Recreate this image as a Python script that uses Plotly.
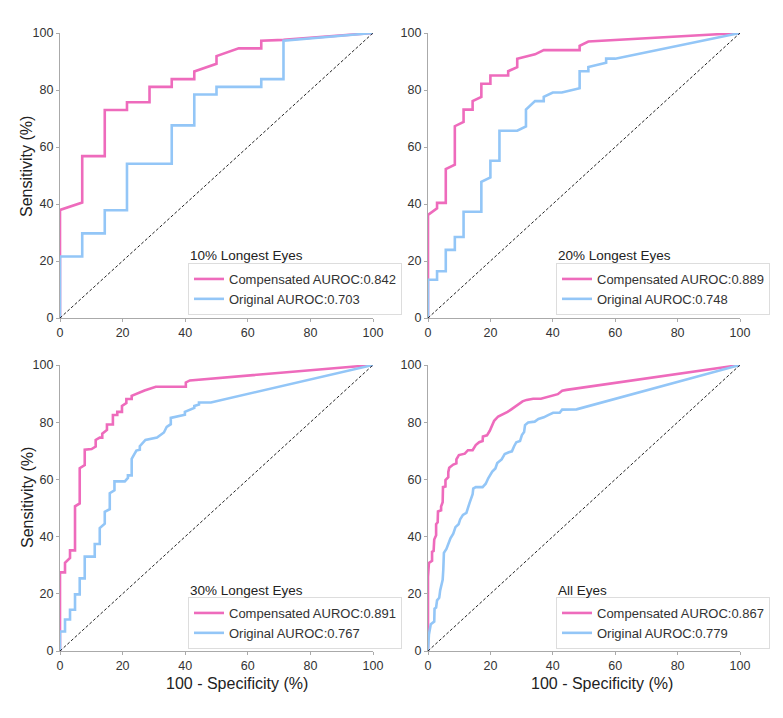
import plotly.graph_objects as go

# ---------------- data ----------------
panel_titles = ["10% Longest Eyes", "20% Longest Eyes", "30% Longest Eyes", "All Eyes"]
comp_auroc = ["0.842", "0.889", "0.891", "0.867"]
orig_auroc = ["0.703", "0.748", "0.767", "0.779"]
x_title = "100 - Specificity (%)"
y_title = "Sensitivity (%)"

# Panel 1: 10% longest eyes
p1_comp_x = [0, 0, 7.1, 7.1, 14.3, 14.3, 21.4, 21.4, 28.6, 28.6, 35.7, 35.7, 42.9, 42.9, 50, 50, 57.1, 64.3, 64.3, 71.4, 100]
p1_comp_y = [0, 37.9, 40.5, 56.8, 56.8, 73.0, 73.0, 75.7, 75.7, 81.1, 81.1, 83.8, 83.8, 86.5, 89.2, 91.9, 94.6, 94.6, 97.3, 97.6, 100]
p1_orig_x = [0, 0, 7.1, 7.1, 14.3, 14.3, 21.4, 21.4, 35.7, 35.7, 42.9, 42.9, 50, 50, 64.3, 64.3, 71.4, 71.4, 100]
p1_orig_y = [0, 21.6, 21.6, 29.7, 29.7, 37.8, 37.8, 54.1, 54.1, 67.6, 67.6, 78.4, 78.4, 81.1, 81.1, 83.8, 83.8, 97.3, 100]

# Panel 2: 20% longest eyes
p2_comp_x = [0, 0, 2.9, 2.9, 5.7, 5.7, 8.6, 8.6, 11.4, 11.4, 14.3, 14.3, 17.1, 17.1, 20, 20, 25.7, 25.7, 28.6, 28.6, 34.3, 37.1, 48.6, 48.6, 51.4, 100]
p2_comp_y = [0, 36.2, 38.5, 40.4, 40.4, 52.3, 53.8, 67.3, 68.8, 73.1, 73.1, 76.1, 77.6, 82.2, 82.2, 85.1, 85.1, 86.6, 88.0, 91.0, 92.5, 94.0, 94.0, 95.5, 97.0, 100]
p2_orig_x = [0, 0, 2.9, 2.9, 5.7, 5.7, 8.6, 8.6, 11.4, 11.4, 17.1, 17.1, 20, 20, 22.9, 22.9, 28.6, 31.4, 31.4, 34.3, 37.1, 37.1, 40, 42.9, 48.6, 48.6, 51.4, 51.4, 57.1, 57.1, 60, 100]
p2_orig_y = [0, 13.4, 13.4, 16.4, 16.4, 23.9, 23.9, 28.4, 28.4, 37.3, 37.3, 47.8, 49.3, 55.2, 55.2, 65.7, 65.7, 67.2, 73.1, 76.1, 76.1, 77.6, 79.1, 79.1, 80.6, 86.6, 86.6, 88.1, 89.6, 91.0, 91.0, 100]

# Panel 3: 30% longest eyes
p3_comp_x = [0, 0, 1.6, 1.6, 3.2, 3.2, 4.8, 4.8, 6.3, 6.3, 7.9, 7.9, 10.1, 11.4, 11.4, 12.7, 13.5, 13.5, 15.0, 15.0, 16.9, 16.9, 18.3, 18.3, 19.8, 19.8, 21.2, 21.2, 22.9, 22.9, 27.0, 30.6, 40.2, 40.2, 41.5, 100]
p3_comp_y = [0, 27.5, 27.5, 30.8, 32.5, 35.2, 35.2, 50.6, 51.6, 63.9, 65.0, 70.4, 70.6, 71.5, 73.8, 74.6, 74.6, 76.0, 77.3, 79.2, 79.2, 82.5, 82.5, 83.6, 83.6, 85.7, 86.7, 88.1, 88.1, 89.2, 91.1, 92.4, 92.4, 93.9, 94.6, 100]
p3_orig_x = [0, 0, 1.6, 1.6, 3.2, 3.2, 4.8, 4.8, 6.3, 6.3, 7.9, 7.9, 11.1, 11.1, 12.7, 12.7, 14.3, 14.3, 15.9, 15.9, 17.4, 17.4, 20.7, 21.7, 21.7, 22.9, 22.9, 24.4, 25.5, 25.5, 27.3, 31.0, 33.2, 34.1, 35.4, 35.4, 39.9, 39.9, 42.9, 42.9, 44.4, 44.4, 48.2, 100]
p3_orig_y = [0, 6.8, 6.8, 11.0, 11.0, 14.4, 14.4, 19.8, 19.8, 25.4, 25.4, 33.0, 33.0, 37.4, 37.4, 43.0, 44.5, 48.7, 49.6, 55.2, 56.2, 59.3, 59.3, 60.5, 61.4, 61.4, 67.2, 70.1, 70.4, 71.6, 73.8, 74.6, 76.4, 78.4, 79.3, 81.5, 82.6, 83.6, 85.0, 85.7, 86.2, 86.9, 86.9, 100]

# Panel 4: all eyes
p4_comp_x = [0, 0, 0.3, 1.3, 1.3, 1.8, 2.0, 2.6, 2.6, 3.1, 3.2, 4.2, 4.2, 4.7, 4.8, 5.6, 5.6, 6.5, 6.5, 6.8, 8.1, 9.1, 9.1, 9.9, 11.8, 12.8, 14.3, 15.3, 16.4, 17.5, 17.6, 18.9, 19.8, 20.5, 21.2, 22.5, 24.1, 25.5, 26.7, 28.1, 29.5, 30.3, 31.6, 33.7, 36.2, 37.8, 40.2, 41.6, 43.0, 44.4, 100]
p4_comp_y = [0, 26.0, 30.8, 31.5, 34.7, 35.0, 39.0, 40.5, 44.3, 45.0, 48.8, 49.2, 50.5, 52.0, 57.3, 57.5, 59.8, 60.8, 62.5, 64.1, 65.2, 65.6, 67.0, 68.5, 69.0, 70.2, 70.2, 72.0, 73.0, 73.4, 75.0, 75.4, 77.0, 79.0, 80.5, 82.0, 82.8, 83.6, 84.5, 85.6, 86.4, 87.3, 87.8, 88.2, 88.2, 88.7, 89.6, 89.8, 91.0, 91.3, 100]
p4_orig_x = [0, 0.3, 0.9, 2.0, 2.1, 2.6, 2.9, 3.6, 3.9, 4.3, 4.7, 4.9, 5.1, 5.9, 6.5, 7.2, 8.1, 8.8, 9.8, 10.3, 11.2, 12.3, 13.3, 14.3, 14.5, 15.3, 17.5, 18.5, 19.3, 20.6, 21.6, 22.2, 23.6, 24.6, 25.9, 26.9, 27.6, 28.3, 29.5, 30.1, 30.8, 31.1, 32.1, 34.2, 35.4, 37.1, 38.5, 40.1, 42.2, 43.0, 47.6, 100]
p4_orig_y = [0, 5.8, 9.4, 10.3, 14.8, 15.2, 17.7, 18.6, 21.2, 23.0, 24.9, 28.4, 34.3, 35.7, 37.6, 39.4, 41.0, 43.3, 44.3, 46.0, 47.6, 48.3, 51.7, 54.8, 56.8, 57.3, 57.3, 58.5, 60.4, 62.7, 63.8, 65.7, 67.0, 68.9, 69.5, 69.8, 71.6, 73.0, 73.4, 75.5, 76.6, 79.0, 79.9, 80.2, 81.1, 81.7, 82.5, 83.3, 83.3, 84.4, 84.5, 100]

chance = [0, 100]
tick_vals = [0, 20, 40, 60, 80, 100]

comp_x = [p1_comp_x, p2_comp_x, p3_comp_x, p4_comp_x]
comp_y = [p1_comp_y, p2_comp_y, p3_comp_y, p4_comp_y]
orig_x = [p1_orig_x, p2_orig_x, p3_orig_x, p4_orig_x]
orig_y = [p1_orig_y, p2_orig_y, p3_orig_y, p4_orig_y]

# ---------------- styling / layout ----------------
PAGE_W, PAGE_H = 783, 718
BODY = 8                      # default browser body margin
W, H = PAGE_W - 2 * BODY, PAGE_H - 2 * BODY
PINK = "#EE6BBC"
BLUE = "#93C6F7"
FONT = "Liberation Sans, Arial, sans-serif"


def px_x(p):
    return (p - BODY) / W


def px_y(p):
    return 1 - (p - BODY) / H


x_domains = [(60, 373), (428, 740), (60, 373), (428, 740)]
y_domains = [(33, 318), (33, 318), (365, 651), (365, 651)]
legend_bottom = [(188, 315), (556, 315), (188, 649), (556, 649)]
title_pos = [(188, 256), (556, 256), (188, 590), (556, 590)]
xtitle_pos = [(237, 683), (602, 683)]
ytitle_pos = [(27, 167), (27, 498)]

fig = go.Figure()
for i in range(4):
    ax = "" if i == 0 else str(i + 1)
    lg = "legend" if i == 0 else f"legend{i + 1}"
    fig.add_trace(go.Scatter(
        x=comp_x[i], y=comp_y[i], mode="lines",
        line=dict(color=PINK, width=2.6),
        name=f"Compensated AUROC:{comp_auroc[i]}",
        xaxis="x" + ax, yaxis="y" + ax, legend=lg))
    fig.add_trace(go.Scatter(
        x=orig_x[i], y=orig_y[i], mode="lines",
        line=dict(color=BLUE, width=2.6),
        name=f"Original AUROC:{orig_auroc[i]}",
        xaxis="x" + ax, yaxis="y" + ax, legend=lg))
    fig.add_trace(go.Scatter(
        x=chance, y=chance, mode="lines",
        line=dict(color="#222222", width=1, dash="3px,2px"),
        showlegend=False, hoverinfo="skip",
        xaxis="x" + ax, yaxis="y" + ax))

layout = dict(
    width=W, height=H,
    margin=dict(l=0, r=0, t=0, b=0, autoexpand=False),
    paper_bgcolor="white", plot_bgcolor="white",
    font=dict(family=FONT, color="#333333", size=12),
    annotations=[],
)

for i in range(4):
    ax = "" if i == 0 else str(i + 1)
    xd = x_domains[i]
    yd = y_domains[i]
    common = dict(
        range=[0, 100], tickvals=tick_vals,
        showgrid=False, zeroline=False,
        showline=True, linecolor="#AAAAAA", linewidth=1.3,
        ticks="outside", ticklen=3, tickcolor="#AAAAAA",
        tickfont=dict(size=12.5, color="#333333", family=FONT),
        mirror=False, fixedrange=True, automargin=False,
    )
    layout["xaxis" + ax] = dict(common, domain=[px_x(xd[0]), px_x(xd[1])],
                                anchor="y" + ax)
    layout["yaxis" + ax] = dict(common, domain=[px_y(yd[1]), px_y(yd[0])],
                                anchor="x" + ax)

    lg = "legend" if i == 0 else f"legend{i + 1}"
    lp = legend_bottom[i]
    layout[lg] = dict(
        x=px_x(lp[0]), y=px_y(lp[1]), xanchor="left", yanchor="bottom",
        bgcolor="white", bordercolor="#DDDDDD", borderwidth=1,
        font=dict(size=13, color="#333333", family=FONT),
        tracegroupgap=0, itemwidth=30,
    )
    tp = title_pos[i]
    layout["annotations"].append(dict(
        text=panel_titles[i], xref="paper", yref="paper",
        x=px_x(tp[0]), y=px_y(tp[1]), xanchor="left", yanchor="middle",
        showarrow=False,
        font=dict(size=13.5, color="#222222", family=FONT)))

# axis titles (x titles under the bottom row, y titles left of the left column)
for (xp, yp) in xtitle_pos:
    layout["annotations"].append(dict(
        text=x_title, xref="paper", yref="paper",
        x=px_x(xp), y=px_y(yp), xanchor="center", yanchor="middle",
        showarrow=False,
        font=dict(size=16, color="#222222", family=FONT)))
for (xp, yp) in ytitle_pos:
    layout["annotations"].append(dict(
        text=y_title, xref="paper", yref="paper", textangle=-90,
        x=px_x(xp), y=px_y(yp), xanchor="center", yanchor="middle",
        showarrow=False,
        font=dict(size=16, color="#222222", family=FONT)))

fig.update_layout(**layout)
fig.write_html("out.html")
